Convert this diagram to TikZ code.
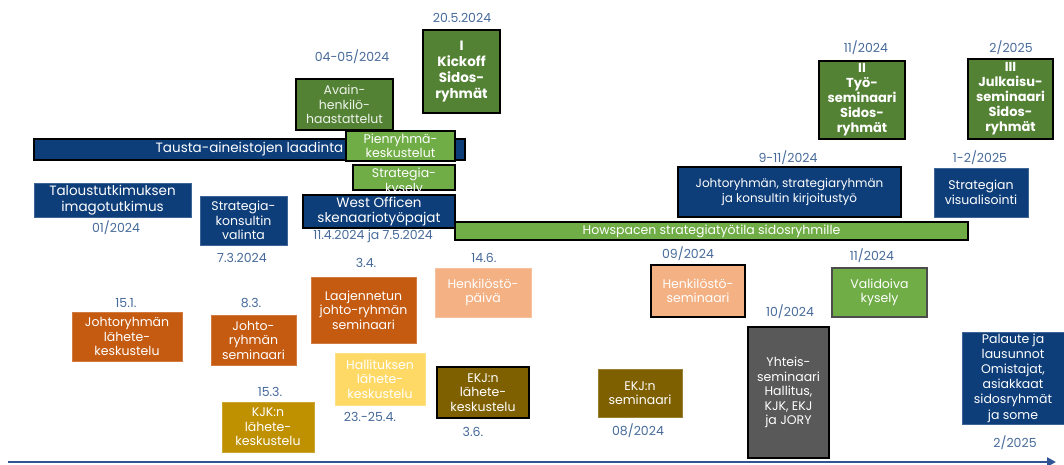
\documentclass[tikz,border=0pt]{standalone}
\usepackage{fontspec}
\setmainfont{Poppins}
\usetikzlibrary{arrows.meta}
\definecolor{dgreen}{RGB}{84,130,53}
\definecolor{lgreen}{RGB}{112,173,71}
\definecolor{navy}{RGB}{14,62,122}
\definecolor{orng}{RGB}{197,90,17}
\definecolor{peach}{RGB}{244,177,131}
\definecolor{gold}{RGB}{191,144,0}
\definecolor{lyellow}{RGB}{255,217,102}
\definecolor{olive}{RGB}{127,96,0}
\definecolor{dgray}{RGB}{89,89,89}
\definecolor{datec}{RGB}{70,106,154}
\definecolor{arrowc}{RGB}{47,85,151}
\tikzset{
  bx/.style={rectangle, align=center, inner sep=0pt, text=white, font=\fontsize{12.5}{14.5}\selectfont},
  blk/.style={bx, draw=black, line width=2.2pt},
  soft/.style={bx, draw=#1!80!white, line width=0.8pt, fill=#1},
  bold/.style={font=\fontsize{13.5}{16}\selectfont\bfseries},
  datel/.style={text=datec, inner sep=0pt, font=\fontsize{12.5}{14}\selectfont},
  timeline/.style={draw=arrowc, line width=2.6pt, -{Triangle[length=9pt,width=9pt]}}
}
\begin{document}
\begin{tikzpicture}[x=1pt,y=-1pt]
\useasboundingbox (0,0) rectangle (1064,464);
% background bars
\node[blk, fill=navy, minimum width=431pt, minimum height=21pt, font=\fontsize{13.5}{15}\selectfont] (tausta) at (249.5,149.5) {Tausta-aineistojen laadinta};
\node[blk, fill=lgreen, minimum width=513pt, minimum height=18pt, line width=1.8pt] (howspace) at (711.5,231) {Howspacen strategiatyötila sidosryhmille};
% top cluster
\node[blk, fill=dgreen, minimum width=77pt, minimum height=83pt, bold] (kickoff) at (461.5,71.5) {I\\Kickoff\\Sidos-\\ryhmät};
\node[blk, fill=dgreen, minimum width=97pt, minimum height=51pt, text=white!90!dgreen] (avain) at (344.5,104.5) {Avain-\\henkilö-\\haastattelut};
\node[blk, fill=lgreen, minimum width=109pt, minimum height=30pt] (pienryhma) at (400.5,146) {Pienryhmä-\\keskustelut};
\node[blk, fill=lgreen, minimum width=102pt, minimum height=25pt] (kysely) at (404,177.5) {};
\node[bx] at (404,182) {Strategia-\\kysely};
\node[blk, fill=navy, minimum width=152pt, minimum height=33pt, font=\fontsize{13.5}{15}\selectfont] (west) at (379,211.5) {West Officen\\skenaariotyöpajat};
% left
\node[soft=navy, minimum width=157pt, minimum height=34pt, font=\fontsize{13.5}{16}\selectfont] (talous) at (112.5,200) {Taloustutkimuksen\\imagotutkimus};
\node[soft=navy, minimum width=87pt, minimum height=49pt] (konsultti) at (243.5,220.5) {Strategia-\\konsultin\\valinta};
\node[soft=orng, minimum width=110pt, minimum height=49pt] (jrlahete) at (127,336.5) {Johtoryhmän\\lähete-\\keskustelu};
\node[soft=orng, minimum width=85pt, minimum height=50pt] (jrsem) at (253.5,340) {Johto-\\ryhmän\\seminaari};
\node[soft=orng, minimum width=105pt, minimum height=66pt] (laaj) at (363.5,310) {Laajennetun\\johto-ryhmän\\seminaari};
\node[soft=gold, minimum width=92pt, minimum height=50pt] (kjk) at (268,427) {KJK:n\\lähete-\\keskustelu};
\node[soft=lyellow, minimum width=90pt, minimum height=52pt] (hall) at (380,379) {Hallituksen\\lähete-\\keskustelu};
\node[soft=peach, minimum width=96pt, minimum height=49pt] (hpaiva) at (483,292.5) {Henkilöstö-\\päivä};
\node[blk, fill=olive, minimum width=92pt, minimum height=51pt] (ekjl) at (483,392.5) {EKJ:n\\lähete-\\keskustelu};
\node[soft=olive, minimum width=84pt, minimum height=48pt] (ekjs) at (640,393) {EKJ:n\\seminaari};
% right
\node[blk, fill=peach, minimum width=94pt, minimum height=52pt] (hsem) at (698,291) {Henkilöstö-\\seminaari};
\node[blk, fill=dgray, minimum width=81pt, minimum height=131pt] (yhteis) at (788.5,392.5) {Yhteis-\\seminaari\\Hallitus,\\KJK, EKJ\\ja JORY};
\node[bx, fill=lgreen, draw=black!70, line width=1.2pt, minimum width=95pt, minimum height=49pt] (valid) at (879.5,292.5) {Validoiva\\kysely};
\node[blk, fill=navy, minimum width=223pt, minimum height=50pt, font=\fontsize{12}{15.5}\selectfont] (kirj) at (789.5,192) {Johtoryhmän, strategiaryhmän\\ja konsultin kirjoitustyö};
\node[soft=navy, minimum width=94pt, minimum height=49pt, font=\fontsize{12.5}{15.5}\selectfont] (visu) at (981,192.5) {Strategian\\visualisointi};
\node[blk, fill=dgreen, minimum width=86pt, minimum height=78pt, bold, font=\fontsize{13}{15}\selectfont\bfseries] (ii) at (862,100) {II\\Työ-\\seminaari\\Sidos-\\ryhmät};
\node[blk, fill=dgreen, minimum width=85pt, minimum height=80pt, bold, font=\fontsize{13}{15}\selectfont\bfseries] (iii) at (1010.5,99) {III\\Julkaisu-\\seminaari\\Sidos-\\ryhmät};
\node[soft=navy, minimum width=102pt, minimum height=92pt, font=\fontsize{12.5}{15.2}\selectfont] (palaute) at (1013,378) {Palaute ja\\lausunnot\\Omistajat,\\asiakkaat\\sidosryhmät\\ja some};
% dates
\node[datel] (d1) at (462,18) {20.5.2024};
\node[datel] (d2) at (352,57) {04-05/2024};
\node[datel] (d3) at (373,236) {11.4.2024 ja 7.5.2024};
\node[datel] (d4) at (116,228) {01/2024};
\node[datel] (d5) at (242,258) {7.3.2024};
\node[datel] (d6) at (126,303) {15.1.};
\node[datel] (d7) at (251,303) {8.3.};
\node[datel] (d8) at (366,263) {3.4.};
\node[datel] (d9) at (270,392) {15.3.};
\node[datel] (d10) at (370,417) {23.-25.4.};
\node[datel] (d11) at (484,258) {14.6.};
\node[datel] (d12) at (473,432) {3.6.};
\node[datel] (d13) at (638,431) {08/2024};
\node[datel] (d14) at (688,254) {09/2024};
\node[datel] (d15) at (790,312) {10/2024};
\node[datel] (d16) at (872,256) {11/2024};
\node[datel] (d17) at (788,158) {9-11/2024};
\node[datel] (d18) at (980,158) {1-2/2025};
\node[datel] (d19) at (866,48) {11/2024};
\node[datel] (d20) at (1011,48) {2/2025};
\node[datel] (d21) at (1015,443) {2/2025};
% timeline
\coordinate (t0) at (8,462);
\coordinate (t1) at (1056,462);
\draw[timeline] (t0) -- (t1);
\end{tikzpicture}
\end{document}
